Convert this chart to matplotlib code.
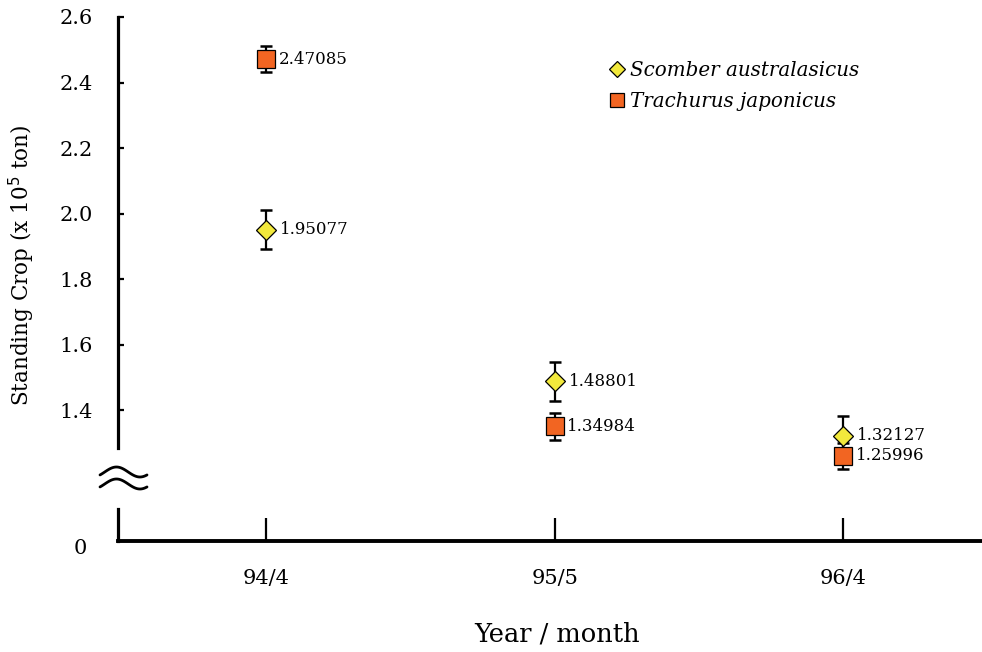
import matplotlib.pyplot as plt
import matplotlib.transforms as mtransforms
import numpy as np

# Data
periods = ['94/4', '95/5', '96/4']
scomber = [1.95077, 1.48801, 1.32127]
scomber_err = [0.06, 0.06, 0.06]
trachurus = [2.47085, 1.34984, 1.25996]
trachurus_err = [0.04, 0.04, 0.04]
yticks_top = [1.4, 1.6, 1.8, 2.0, 2.2, 2.4, 2.6]

plt.rcParams['font.family'] = ['DejaVu Serif']

W, H = 982, 652
fig = plt.figure(figsize=(W / 100, H / 100), dpi=100)

x = np.arange(1, len(periods) + 1)
xlim = (0.487, 3.48)

# upper part of the broken axis
ax = fig.add_axes([118 / W, (H - 448) / H, 1 - 118 / W, (448 - 17) / H])
# lower part (just the zero)
ax0 = fig.add_axes([118 / W, (H - 541) / H, 1 - 118 / W, (541 - 509) / H])

ax.errorbar(x, scomber, yerr=scomber_err, fmt='none', ecolor='black',
            elinewidth=1.6, capsize=4.5, capthick=1.8, zorder=2, clip_on=False)
ax.errorbar(x, trachurus, yerr=trachurus_err, fmt='none', ecolor='black',
            elinewidth=1.6, capsize=4.5, capthick=1.8, zorder=2, clip_on=False)
ax.plot(x, scomber, linestyle='none', marker='D', markersize=10.5,
        markerfacecolor='#F2E93C', markeredgecolor='black', markeredgewidth=0.9,
        label='Scomber australasicus', zorder=3, clip_on=False)
ax.plot(x, trachurus, linestyle='none', marker='s', markersize=12.5,
        markerfacecolor='#F26522', markeredgecolor='black', markeredgewidth=0.9,
        label='Trachurus japonicus', zorder=4, clip_on=False)

for xi, v in zip(x, scomber):
    ax.annotate(f'{v:.5f}', (xi, v), xytext=(10, 0), textcoords='offset points',
                va='center', ha='left', fontsize=12, annotation_clip=False)
for xi, v in zip(x, trachurus):
    ax.annotate(f'{v:.5f}', (xi, v), xytext=(9, 0), textcoords='offset points',
                va='center', ha='left', fontsize=12, annotation_clip=False)

ax.set_xlim(*xlim)
ax.set_ylim(1.284, 2.6)
ax.set_yticks(yticks_top)
ax.set_yticklabels([f'{t:.1f}' for t in yticks_top])
ax.tick_params(axis='y', direction='in', length=4.5, width=1.6, pad=18, labelsize=15)
ax.set_xticks([])
for s in ['top', 'right', 'bottom']:
    ax.spines[s].set_visible(False)
ax.spines['left'].set_linewidth(2.3)
ax.patch.set_visible(False)

ax0.set_xlim(*xlim)
ax0.set_ylim(0, 1)
ax0.set_yticks([0])
ax0.set_yticklabels(['0'])
ax0.tick_params(axis='y', length=0, pad=22, labelsize=15)
for lbl in ax0.get_yticklabels():
    lbl.set_transform(lbl.get_transform() +
                      mtransforms.ScaledTranslation(0, -5 / 100, fig.dpi_scale_trans))
ax0.set_xticks(x)
ax0.set_xticklabels(periods)
ax0.tick_params(axis='x', direction='in', length=16.5, width=1.6, pad=20, labelsize=15)
for s in ['top', 'right']:
    ax0.spines[s].set_visible(False)
ax0.spines['left'].set_linewidth(2.3)
ax0.spines['bottom'].set_linewidth(2.8)
ax0.patch.set_visible(False)

fig.text(557 / W, 1 - 634 / H, 'Year / month', ha='center', va='center', fontsize=18.5)
fig.text(22 / W, 1 - 265 / H, 'Standing Crop (x 10$^5$ ton)', rotation=90,
         ha='center', va='center', fontsize=15.5)

# break marks
t = np.linspace(0, 1, 60)
bx = 100 + 47 * t
for y0 in (472, 484):
    by = y0 - 5 * np.sin(2 * np.pi * (t - 0.1))
    fig.add_artist(plt.Line2D(bx / W, 1 - by / H, color='black', linewidth=2.0,
                              solid_capstyle='round'))

leg = ax.legend(loc='upper left', bbox_to_anchor=(592 / W, 1 - 43 / H),
                bbox_transform=fig.transFigure, frameon=False, markerscale=0.75,
                handlelength=0.7, handletextpad=0.3, labelspacing=0.6,
                prop={'style': 'italic', 'size': 14.3})

fig.savefig('out.png', dpi=100)
